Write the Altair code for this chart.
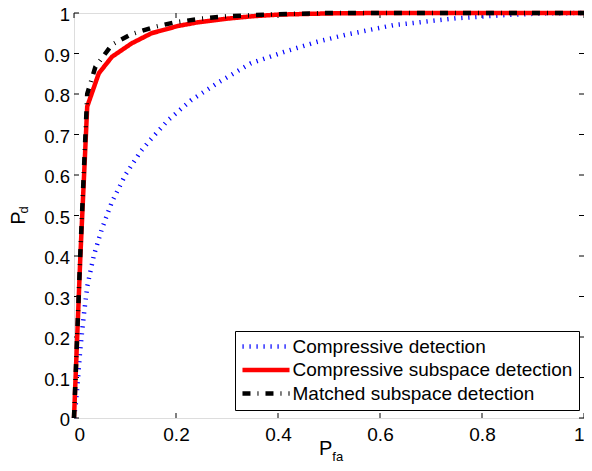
import altair as alt
import pandas as pd

FONT = "Liberation Sans"

series_names = ["Compressive detection", "Compressive subspace detection", "Matched subspace detection"]
series_colors = ["#0000ff", "#ff0000", "#000000"]
series_dashes = [[1.2, 5.8], [1, 0], [8, 7, 1, 7]]

# Compressive detection (blue dotted)
cd_pfa = [0, 0.004, 0.008, 0.012, 0.016, 0.020, 0.026, 0.039, 0.055, 0.0745, 0.1006, 0.130, 0.149,
          0.185, 0.230, 0.285, 0.347, 0.412, 0.477, 0.532, 0.626, 0.749, 0.846, 0.92, 1.0]
cd_pd = [0, 0.040, 0.100, 0.165, 0.215, 0.262, 0.325, 0.402, 0.468, 0.534, 0.600, 0.657, 0.686,
         0.736, 0.785, 0.830, 0.876, 0.904, 0.929, 0.946, 0.970, 0.987, 0.995, 0.999, 1.0]

# Compressive subspace detection (red solid)
csd_pfa = [0, 0.0125, 0.0259, 0.0486, 0.0745, 0.113, 0.152, 0.204, 0.243, 0.30, 0.35, 0.40, 0.50, 0.60, 1.0]
csd_pd = [0, 0.400, 0.769, 0.851, 0.892, 0.925, 0.950, 0.968, 0.977, 0.986, 0.992, 0.996, 0.999, 1.0, 1.0]

# Matched subspace detection (black dash-dot)
msd_pfa = [0, 0.0125, 0.0259, 0.042, 0.0745, 0.113, 0.159, 0.198, 0.25, 0.30, 0.40, 0.50, 1.0]
msd_pd = [0, 0.410, 0.800, 0.867, 0.922, 0.948, 0.966, 0.977, 0.986, 0.992, 0.997, 1.0, 1.0]

x_ticks = [0, 0.2, 0.4, 0.6, 0.8, 1]
y_ticks = [0, 0.1, 0.2, 0.3, 0.4, 0.5, 0.6, 0.7, 0.8, 0.9, 1]

x_title = ["P", "fa"]
y_title = ["P", "d"]

rows = []
for name, xs_, ys_ in zip(series_names, [cd_pfa, csd_pfa, msd_pfa], [cd_pd, csd_pd, msd_pd]):
    for a, b in zip(xs_, ys_):
        rows.append({"series": name, "Pfa": a, "Pd": b})
df = pd.DataFrame(rows)

W, H = 510, 405
xs = alt.Scale(domain=[0, 1], nice=False, zero=False)
ys = alt.Scale(domain=[0, 1], nice=False, zero=False)

x_axis = alt.Axis(values=x_ticks, format="~g", title=None, ticks=False, domain=False, grid=False,
                  labelFontSize=19, labelPadding=7, labelFont=FONT, labelColor="black")
y_axis = alt.Axis(values=y_ticks, format="~g", title=None, ticks=False, domain=False, grid=False,
                  labelFontSize=18.5, labelPadding=4.5, labelOffset=1.5, labelFont=FONT, labelColor="black")

leg = alt.Legend(
    title=None, orient="none", legendX=161, legendY=318, direction="vertical",
    strokeColor="black", fillColor="white", padding=6, cornerRadius=0,
    symbolType="M-3.36,0H3.36", symbolSize=196, symbolStrokeWidth=4.5, symbolOffset=15.5,
    labelOffset=17, rowPadding=3.5, labelFontSize=19, labelFont=FONT, labelColor="black",
    labelLimit=400,
)

lines = alt.Chart(df).mark_line(strokeWidth=4.5).encode(
    x=alt.X("Pfa:Q", scale=xs, axis=x_axis),
    y=alt.Y("Pd:Q", scale=ys, axis=y_axis),
    color=alt.Color("series:N", scale=alt.Scale(domain=series_names, range=series_colors), legend=leg),
    strokeDash=alt.StrokeDash("series:N", scale=alt.Scale(domain=series_names, range=series_dashes), legend=leg),
)

xt = pd.DataFrame({"t": x_ticks})
yt = pd.DataFrame({"t": y_ticks})
tk = dict(color="black", strokeWidth=1)
tick_bottom = alt.Chart(xt).mark_rule(**tk).encode(x=alt.X("t:Q", scale=xs, axis=x_axis), y=alt.value(H), y2=alt.value(H - 5))
tick_top = alt.Chart(xt).mark_rule(**tk).encode(x=alt.X("t:Q", scale=xs, axis=x_axis), y=alt.value(0), y2=alt.value(5))
tick_left = alt.Chart(yt).mark_rule(**tk).encode(y=alt.Y("t:Q", scale=ys, axis=y_axis), x=alt.value(0), x2=alt.value(5))
tick_right = alt.Chart(yt).mark_rule(**tk).encode(y=alt.Y("t:Q", scale=ys, axis=y_axis), x=alt.value(W), x2=alt.value(W - 5))

one = pd.DataFrame({"k": [0]})


def label(s, x, y, size, angle=0):
    return alt.Chart(one).mark_text(text=s, font=FONT, fontSize=size, color="black", align="left",
                                    baseline="alphabetic", angle=angle).encode(x=alt.value(x), y=alt.value(y))


titles = [
    label(x_title[0], 245, 442, 20),
    label(x_title[1], 258.3, 448, 13),
    label(y_title[0], -49.5, 211.8, 20, 270),
    label(y_title[1], -46.5, 200.5, 13, 270),
]

chart = alt.layer(tick_bottom, tick_top, tick_left, tick_right, lines, *titles).properties(
    width=W, height=H,
    padding={"left": 66, "top": 5, "right": 0, "bottom": 45},
    autosize=alt.AutoSizeParams(type="none"),
).configure_view(stroke="black", strokeWidth=1).configure(font=FONT)

chart.save("out.html", embed_options={"renderer": "svg", "actions": False})
